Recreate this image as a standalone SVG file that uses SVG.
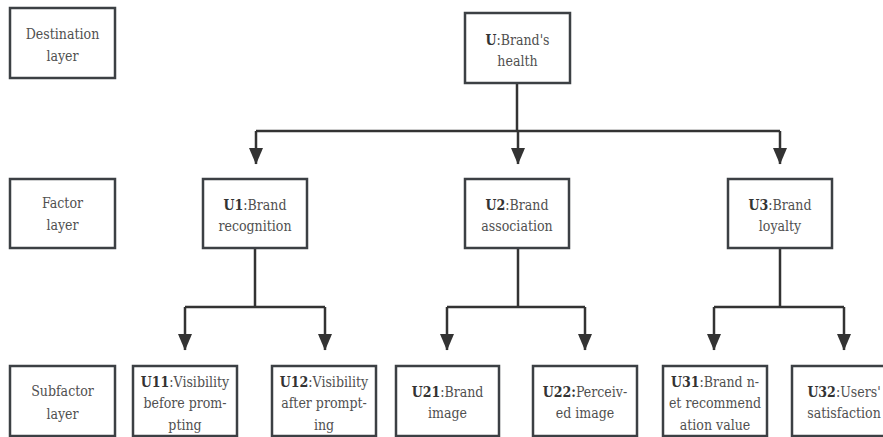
<svg xmlns="http://www.w3.org/2000/svg" width="883" height="437" viewBox="0 0 883 437">
<style>
.box{fill:#fff;stroke:#3c4044;stroke-width:2.5}
.t{font-family:"DejaVu Serif Condensed","DejaVu Serif","Liberation Serif",serif;font-stretch:condensed;font-size:14px;fill:#505050;text-anchor:middle}
.b{font-weight:bold;fill:#333}
.c{fill:none;stroke:#333;stroke-width:2.5}
</style>
<defs>
<marker id="ah" markerUnits="userSpaceOnUse" markerWidth="17" markerHeight="14" refX="16" refY="7" orient="auto" viewBox="0 0 17 14">
<polygon points="0,0 16.5,7 0,14" fill="#333"/>
</marker>
</defs>
<rect width="883" height="437" fill="#fff"/>
<g id="connectors">
<path class="c" d="M517,83 V131"/>
<path class="c" d="M256,131 H780"/>
<path class="c" d="M256,131 V164" marker-end="url(#ah)"/>
<path class="c" d="M518,131 V164" marker-end="url(#ah)"/>
<path class="c" d="M780,131 V164" marker-end="url(#ah)"/>
<path class="c" d="M255,248 V307"/>
<path class="c" d="M185,307 H325"/>
<path class="c" d="M185,307 V350" marker-end="url(#ah)"/>
<path class="c" d="M325,307 V350" marker-end="url(#ah)"/>
<path class="c" d="M518,248 V307"/>
<path class="c" d="M447,307 H585"/>
<path class="c" d="M447,307 V350" marker-end="url(#ah)"/>
<path class="c" d="M585,307 V350" marker-end="url(#ah)"/>
<path class="c" d="M780,248 V307"/>
<path class="c" d="M714,307 H844"/>
<path class="c" d="M714,307 V350" marker-end="url(#ah)"/>
<path class="c" d="M844,307 V350" marker-end="url(#ah)"/>
</g>
<g id="destination-layer"><rect class="box" x="10" y="8" width="105" height="70"/>
<text class="t" x="62.5" y="39">Destination</text><text class="t" x="62.5" y="61">layer</text></g>
<g id="factor-layer"><rect class="box" x="10" y="179" width="105" height="69"/>
<text class="t" x="62.5" y="208">Factor</text><text class="t" x="62.5" y="230">layer</text></g>
<g id="subfactor-layer"><rect class="box" x="10" y="366" width="105" height="70"/>
<text class="t" x="62.5" y="396">Subfactor</text><text class="t" x="62.5" y="419">layer</text></g>
<g id="U"><rect class="box" x="465" y="13" width="105" height="70"/>
<text class="t" x="517.5" y="45"><tspan class="b">U</tspan>:Brand's</text><text class="t" x="517.5" y="66">health</text></g>
<g id="U1"><rect class="box" x="203" y="179" width="104" height="69"/>
<text class="t" x="255" y="210"><tspan class="b">U1</tspan>:Brand</text><text class="t" x="255" y="231">recognition</text></g>
<g id="U2"><rect class="box" x="465" y="179" width="104" height="69"/>
<text class="t" x="517" y="210"><tspan class="b">U2</tspan>:Brand</text><text class="t" x="517" y="231">association</text></g>
<g id="U3"><rect class="box" x="728" y="179" width="104" height="69"/>
<text class="t" x="780" y="210"><tspan class="b">U3</tspan>:Brand</text><text class="t" x="780" y="231">loyalty</text></g>
<g id="U11"><rect class="box" x="133" y="366" width="104" height="70"/>
<text class="t" x="185" y="387"><tspan class="b">U11</tspan>:Visibility</text><text class="t" x="185" y="408">before prom-</text><text class="t" x="185" y="430">pting</text></g>
<g id="U12"><rect class="box" x="272" y="366" width="104" height="70"/>
<text class="t" x="324" y="387"><tspan class="b">U12</tspan>:Visibility</text><text class="t" x="324" y="408">after prompt-</text><text class="t" x="324" y="430">ing</text></g>
<g id="U21"><rect class="box" x="396" y="366" width="103" height="70"/>
<text class="t" x="447.5" y="397"><tspan class="b">U21</tspan>:Brand</text><text class="t" x="447.5" y="418">image</text></g>
<g id="U22"><rect class="box" x="533" y="366" width="104" height="70"/>
<text class="t" x="585" y="397"><tspan class="b">U22:</tspan>Perceiv-</text><text class="t" x="585" y="418">ed image</text></g>
<g id="U31"><rect class="box" x="663" y="366" width="104" height="70"/>
<text class="t" x="715" y="387"><tspan class="b">U31</tspan>:Brand n-</text><text class="t" x="715" y="408">et recommend</text><text class="t" x="715" y="430">ation value</text></g>
<g id="U32"><rect class="box" x="792" y="366" width="104" height="70"/>
<text class="t" x="844" y="397"><tspan class="b">U32</tspan>:Users'</text><text class="t" x="844" y="418">satisfaction</text></g>
</svg>
